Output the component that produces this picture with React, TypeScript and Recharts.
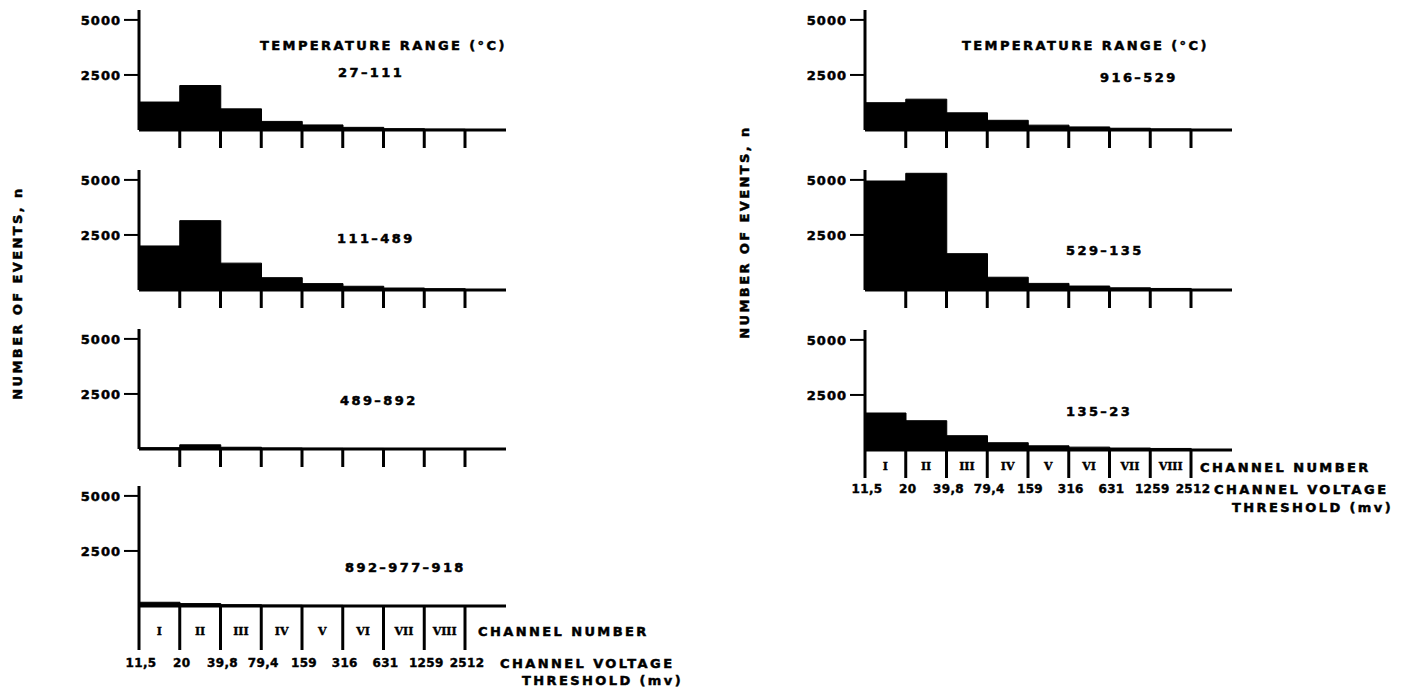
import React from 'react'
import { BarChart, Bar, XAxis, YAxis } from 'recharts'

const channels = ['I', 'II', 'III', 'IV', 'V', 'VI', 'VII', 'VIII']
const thresholds = ['11,5', '20', '39,8', '79,4', '159', '316', '631', '1259', '2512']
const yTicks = [2500, 5000]

// number of events per channel, one array per temperature range (°C)
const range27to111 = [1270, 2020, 960, 390, 230, 120, 60, 35]
const range111to489 = [2000, 3150, 1220, 560, 290, 170, 90, 60]
const range489to892 = [60, 190, 80, 45, 30, 25, 20, 20]
const range892to918 = [170, 110, 60, 40, 30, 20, 20, 20]
const range916to529 = [1240, 1400, 780, 440, 220, 140, 80, 50]
const range529to135 = [4950, 5300, 1650, 580, 300, 180, 100, 70]
const range135to23 = [1680, 1330, 650, 330, 190, 130, 90, 70]

const FONT = '"DejaVu Sans", sans-serif'
const INK = '#000'
const PLOT_H = 120
const Y_MAX = 5450

type BottomAxis = { boxLen: number; romanY: number; labelY: number }
type PanelProps = { values: number[]; left: number; base: number; bottom?: BottomAxis }

const numStyle = { fontFamily: FONT, fontWeight: 700, fontSize: 12, letterSpacing: 0.3, fill: INK, stroke: INK, strokeWidth: 0.4 }
const romanStyle = { fontFamily: '"DejaVu Serif", serif', fontWeight: 700, fontSize: 11, fill: INK, stroke: INK, strokeWidth: 0.4 }

// one tick per channel: divider line on the bin's right edge (plus left edge for the first bin),
// channel numeral in the middle and voltage threshold under each edge on the labelled panels
function ChannelTick(props: any) {
  const { x, y, payload, index, box } = props
  const half = payload.offset ?? 20
  const edgeLen = box ? box.boxLen : 18
  const edge = (ex: number, i: number) => (
    <g key={i}>
      <line x1={ex} x2={ex} y1={y} y2={y + edgeLen} stroke={INK} strokeWidth={3} />
      {box && (
        <text x={ex + 2} y={y + box.labelY} textAnchor="middle" dominantBaseline="central" style={numStyle}>
          {thresholds[i]}
        </text>
      )}
    </g>
  )
  return (
    <g>
      {box && index === 0 && edge(x - half, 0)}
      {edge(x + half, index + 1)}
      {box && (
        <text x={x} y={y + box.romanY} textAnchor="middle" dominantBaseline="central" style={romanStyle}>
          {payload.value}
        </text>
      )}
    </g>
  )
}

function Panel({ values, left, base, bottom }: PanelProps) {
  const data = channels.map((ch, i) => ({ ch, n: values[i] }))
  const axisH = bottom ? bottom.labelY + 12 : 24
  return (
    <div style={{ position: 'absolute', left, top: base - PLOT_H }}>
      <BarChart
        width={506}
        height={PLOT_H + axisH}
        data={data}
        margin={{ top: 0, right: 0, bottom: 0, left: 0 }}
        barCategoryGap={0}
      >
        <XAxis
          dataKey="ch"
          type="category"
          height={axisH}
          padding={{ left: 0, right: 41 }}
          interval={0}
          axisLine={{ stroke: INK, strokeWidth: 3 }}
          tickLine={false}
          tickSize={0}
          tickMargin={0}
          tick={(p: any) => <ChannelTick {...p} box={bottom} />}
        />
        <YAxis
          type="number"
          domain={[0, Y_MAX]}
          allowDataOverflow
          ticks={yTicks}
          interval={0}
          width={139}
          axisLine={{ stroke: INK, strokeWidth: 3 }}
          tickLine={{ stroke: INK, strokeWidth: 2 }}
          tickSize={15}
          tickMargin={3}
          tick={{ fill: INK, stroke: INK, strokeWidth: 0.5, fontFamily: FONT, fontWeight: 700, fontSize: 13, letterSpacing: 1 }}
        />
        <Bar dataKey="n" fill={INK} stroke={INK} strokeWidth={1} isAnimationActive={false} />
      </BarChart>
    </div>
  )
}

const textStyle = { fontFamily: FONT, fontWeight: 700, fontSize: 13, letterSpacing: 2.4, fill: INK, stroke: INK, strokeWidth: 0.5 }

function Label({ x, y, children, rotate }: { x: number; y: number; children: string; rotate?: boolean }) {
  return (
    <text
      x={x}
      y={y}
      dominantBaseline="central"
      textAnchor={rotate ? 'middle' : 'start'}
      transform={rotate ? `rotate(-90 ${x} ${y})` : undefined}
      style={textStyle}
    >
      {children}
    </text>
  )
}

export default function App() {
  return (
    <div style={{ position: 'absolute', left: 0, top: 0, width: 1409, height: 693, background: '#fff', overflow: 'hidden' }}>
      <Panel values={range27to111} left={0} base={130} />
      <Panel values={range111to489} left={0} base={290} />
      <Panel values={range489to892} left={0} base={449} />
      <Panel values={range892to918} left={0} base={606} bottom={{ boxLen: 44, romanY: 25, labelY: 57 }} />
      <Panel values={range916to529} left={726} base={130} />
      <Panel values={range529to135} left={726} base={290} />
      <Panel values={range135to23} left={726} base={450} bottom={{ boxLen: 28, romanY: 16, labelY: 39 }} />
      <svg width={1409} height={693} style={{ position: 'absolute', left: 0, top: 0, pointerEvents: 'none' }}>
        <Label x={260} y={45}>TEMPERATURE RANGE (°C)</Label>
        <Label x={338} y={72}>27–111</Label>
        <Label x={337} y={238}>111–489</Label>
        <Label x={340} y={400}>489–892</Label>
        <Label x={345} y={567}>892–977–918</Label>
        <Label x={478} y={631}>CHANNEL NUMBER</Label>
        <Label x={500} y={663}>CHANNEL VOLTAGE</Label>
        <Label x={522} y={680}>THRESHOLD (mv)</Label>
        <Label x={17} y={293} rotate>NUMBER OF EVENTS, n</Label>
        <Label x={962} y={45}>TEMPERATURE RANGE (°C)</Label>
        <Label x={1100} y={77}>916–529</Label>
        <Label x={1066} y={250}>529–135</Label>
        <Label x={1066} y={411}>135–23</Label>
        <Label x={1200} y={467}>CHANNEL NUMBER</Label>
        <Label x={1214} y={489}>CHANNEL VOLTAGE</Label>
        <Label x={1232} y={507}>THRESHOLD (mv)</Label>
        <Label x={744} y={232} rotate>NUMBER OF EVENTS, n</Label>
      </svg>
    </div>
  )
}
